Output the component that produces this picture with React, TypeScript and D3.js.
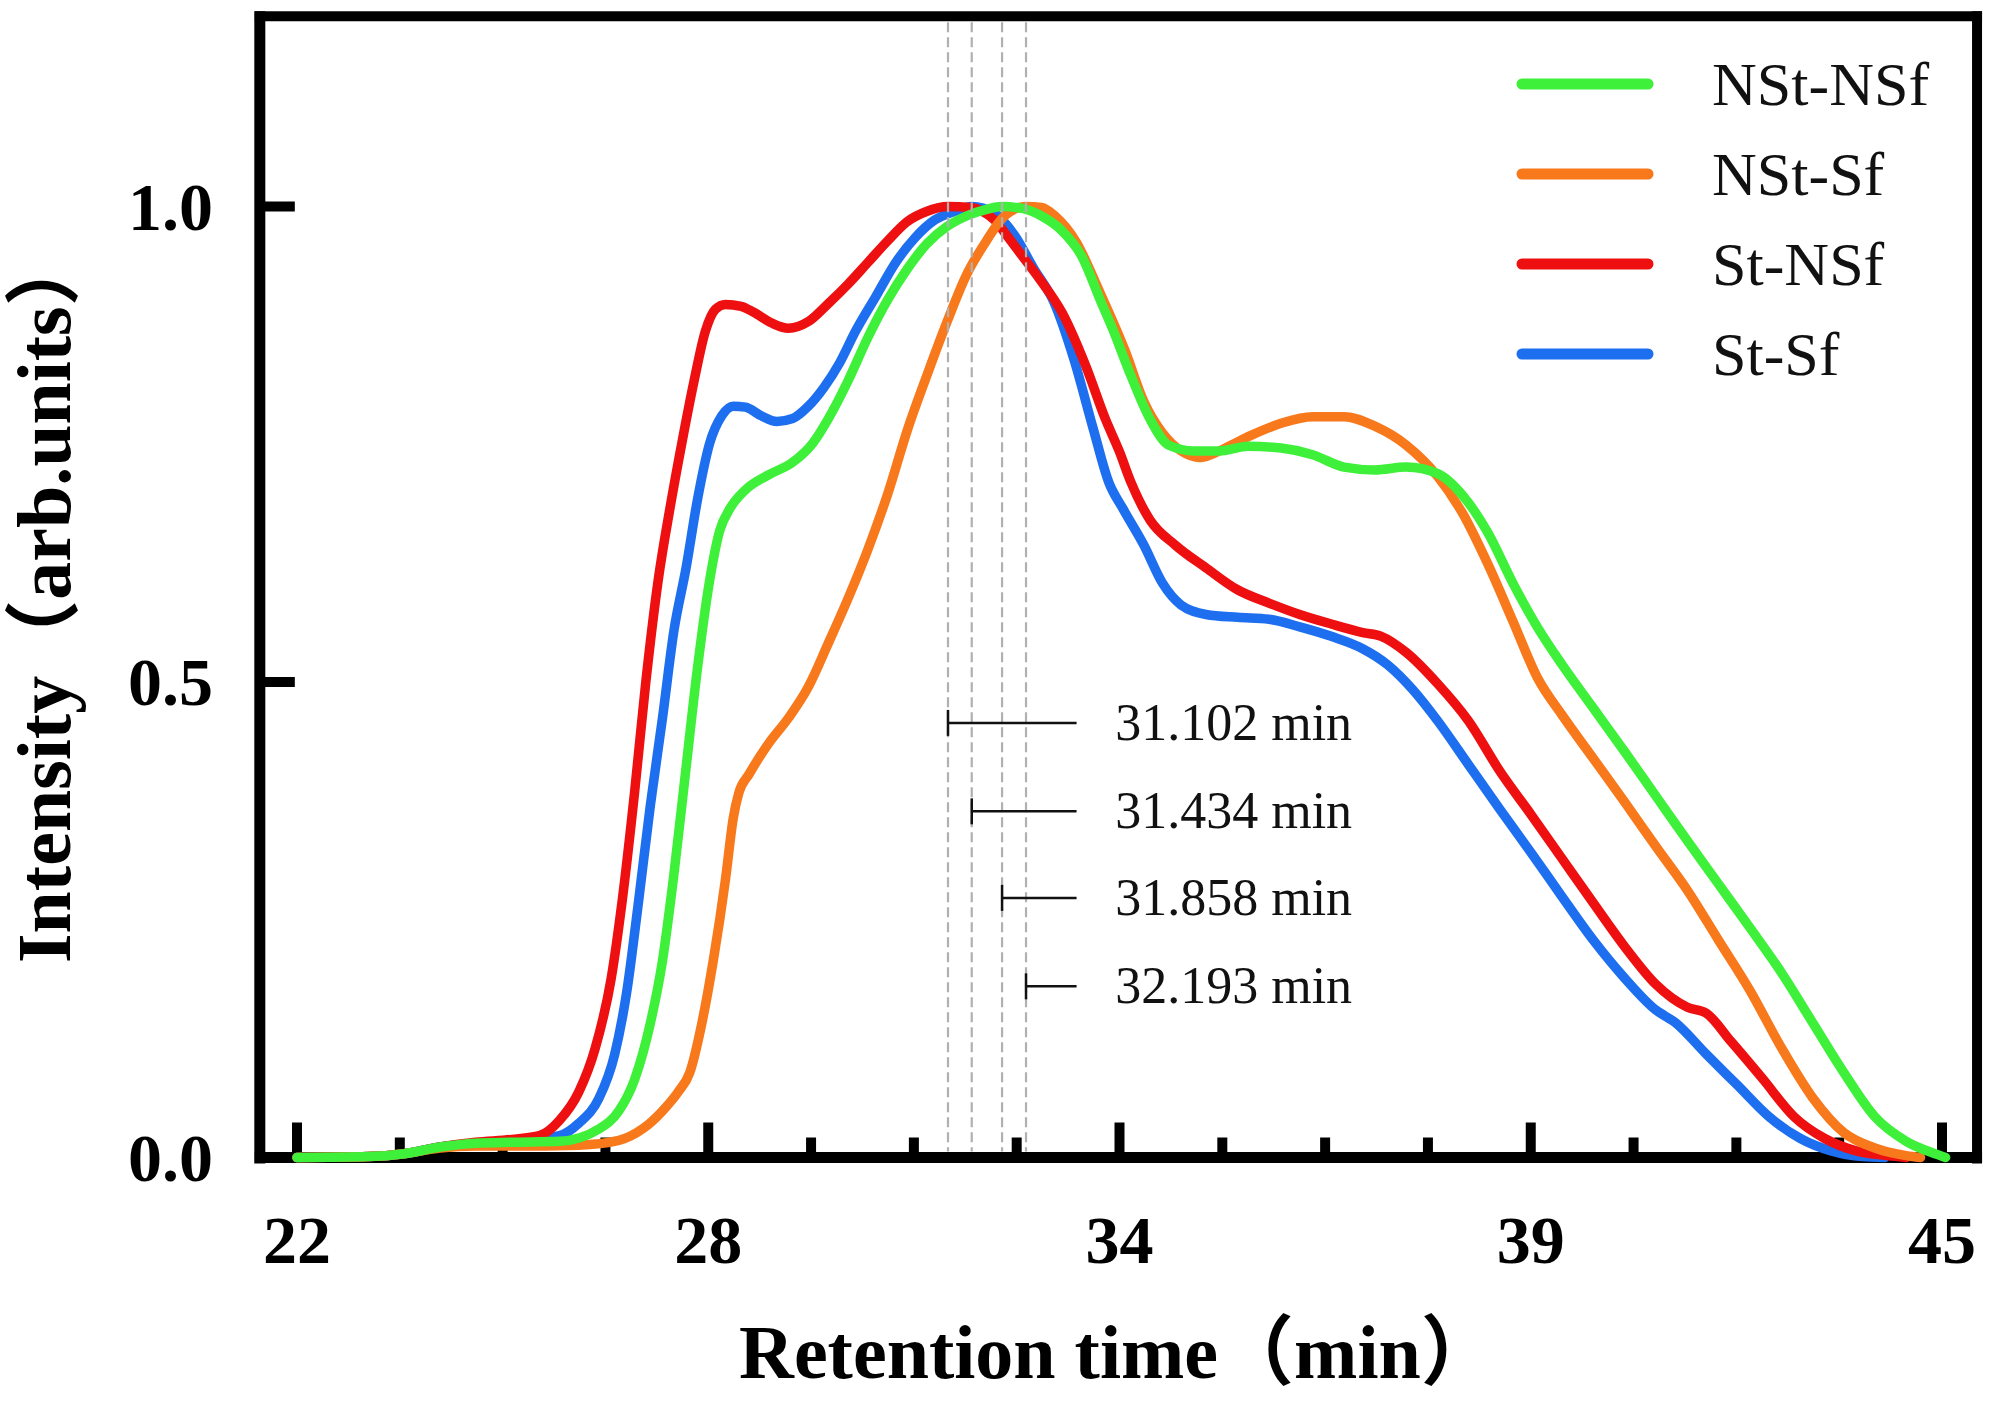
import React, { useEffect } from "react";
import * as d3 from "d3";

const W = 1995;
const H = 1405;

const seriesNames = ["NSt-NSf", "NSt-Sf", "St-NSf", "St-Sf"];
const seriesColors = ["#3ef03a", "#f8781c", "#ee1010", "#1d6ff0"];

// [retention time (min), intensity (arb. units)]
const nstNsf: [number, number][] = [
  [22, 0], [23, 0.001], [23.5, 0.004], [24, 0.011], [24.5, 0.015], [25, 0.016], [25.67, 0.017],
  [26.22, 0.03], [26.5, 0.049], [26.72, 0.082], [26.94, 0.141], [27.11, 0.207], [27.27, 0.298],
  [27.44, 0.41], [27.6, 0.515], [27.77, 0.607], [27.91, 0.659], [28.05, 0.682], [28.27, 0.702],
  [28.6, 0.718], [28.93, 0.731], [29.21, 0.751], [29.43, 0.777], [29.7, 0.816], [29.98, 0.862],
  [30.26, 0.902], [30.53, 0.934], [30.81, 0.961], [31.09, 0.979], [31.36, 0.99], [31.64, 0.997],
  [31.86, 1.0], [32.14, 0.998], [32.41, 0.99], [32.69, 0.975], [32.97, 0.948], [33.24, 0.9],
  [33.4, 0.872], [33.66, 0.822], [33.93, 0.776], [34.19, 0.749], [34.54, 0.743], [34.89, 0.743],
  [35.3, 0.748], [35.76, 0.746], [36.2, 0.739], [36.64, 0.726], [37.07, 0.723], [37.51, 0.726],
  [37.95, 0.719], [38.3, 0.696], [38.65, 0.657], [39.0, 0.604], [39.34, 0.558], [39.69, 0.518],
  [40.13, 0.472], [40.57, 0.426], [41.0, 0.38], [41.44, 0.333], [41.88, 0.287], [42.32, 0.241],
  [42.75, 0.195], [43.19, 0.142], [43.63, 0.089], [44.06, 0.043], [44.5, 0.017], [44.94, 0.003],
  [45.05, 0],
];

const nstSf: [number, number][] = [
  [22, 0], [23, 0.001], [23.5, 0.004], [24, 0.01], [24.5, 0.012], [25, 0.012], [25.94, 0.013],
  [26.5, 0.018], [26.83, 0.03], [27.11, 0.049], [27.33, 0.069], [27.49, 0.089], [27.66, 0.141],
  [27.82, 0.207], [27.99, 0.292], [28.1, 0.357], [28.18, 0.384], [28.32, 0.403], [28.6, 0.436],
  [28.87, 0.462], [29.15, 0.495], [29.43, 0.541], [29.7, 0.587], [29.98, 0.639], [30.26, 0.698],
  [30.53, 0.764], [30.81, 0.823], [31.09, 0.879], [31.36, 0.928], [31.64, 0.964], [31.83, 0.985],
  [32.03, 0.997], [32.19, 1.0], [32.41, 0.999], [32.6, 0.99], [32.9, 0.962], [33.2, 0.914],
  [33.58, 0.848], [33.84, 0.795], [34.1, 0.762], [34.36, 0.743], [34.63, 0.736], [34.98, 0.746],
  [35.33, 0.759], [35.76, 0.772], [36.2, 0.779], [36.64, 0.779], [37.07, 0.769], [37.51, 0.749],
  [37.95, 0.716], [38.3, 0.677], [38.65, 0.624], [39.0, 0.564], [39.34, 0.505], [39.69, 0.465],
  [40.13, 0.419], [40.57, 0.373], [41.0, 0.327], [41.44, 0.281], [41.88, 0.228], [42.32, 0.175],
  [42.75, 0.116], [43.19, 0.063], [43.63, 0.026], [44.06, 0.01], [44.5, 0.002], [44.7, 0],
];

const stNsf: [number, number][] = [
  [22, 0], [23, 0.001], [23.5, 0.004], [24, 0.011], [24.5, 0.016], [25, 0.019], [25.39, 0.023],
  [25.67, 0.039], [25.94, 0.069], [26.17, 0.115], [26.39, 0.187], [26.55, 0.272], [26.72, 0.384],
  [26.88, 0.502], [27.05, 0.607], [27.22, 0.685], [27.38, 0.751], [27.55, 0.816], [27.71, 0.869],
  [27.85, 0.892], [27.99, 0.897], [28.21, 0.895], [28.38, 0.889], [28.65, 0.877], [28.87, 0.872],
  [29.15, 0.879], [29.43, 0.898], [29.7, 0.918], [29.98, 0.941], [30.26, 0.964], [30.53, 0.984],
  [30.81, 0.995], [31.1, 1.0], [31.42, 0.999], [31.58, 0.995], [31.75, 0.986], [31.92, 0.97],
  [32.14, 0.948], [32.38, 0.924], [32.7, 0.888], [33.03, 0.832], [33.3, 0.777], [33.5, 0.742],
  [33.66, 0.71], [33.93, 0.67], [34.28, 0.644], [34.71, 0.62], [35.15, 0.597], [35.59, 0.583],
  [36.02, 0.571], [36.46, 0.561], [36.9, 0.552], [37.16, 0.548], [37.51, 0.531], [37.95, 0.498],
  [38.38, 0.459], [38.82, 0.406], [39.26, 0.36], [39.69, 0.314], [40.13, 0.267], [40.57, 0.221],
  [41.0, 0.182], [41.44, 0.158], [41.7, 0.152], [42.05, 0.122], [42.49, 0.083], [42.93, 0.043],
  [43.36, 0.02], [43.8, 0.007], [44.24, 0.002], [44.5, 0],
];

const stSf: [number, number][] = [
  [22, 0], [23, 0.001], [23.5, 0.004], [24, 0.011], [24.5, 0.015], [25, 0.017], [25.67, 0.023],
  [25.94, 0.036], [26.22, 0.062], [26.44, 0.108], [26.61, 0.174], [26.77, 0.266], [26.94, 0.37],
  [27.11, 0.462], [27.27, 0.554], [27.44, 0.62], [27.6, 0.692], [27.77, 0.751], [27.94, 0.78],
  [28.1, 0.79], [28.27, 0.789], [28.49, 0.78], [28.71, 0.774], [28.93, 0.777], [29.15, 0.79],
  [29.37, 0.81], [29.59, 0.836], [29.81, 0.869], [30.09, 0.905], [30.37, 0.941], [30.64, 0.967],
  [30.92, 0.986], [31.2, 0.995], [31.43, 1.0], [31.75, 0.993], [32.03, 0.97], [32.3, 0.935],
  [32.58, 0.9], [32.86, 0.84], [33.13, 0.767], [33.35, 0.71], [33.55, 0.682], [33.84, 0.644],
  [34.1, 0.604], [34.36, 0.581], [34.71, 0.571], [35.15, 0.568], [35.59, 0.566], [36.02, 0.558],
  [36.46, 0.548], [36.9, 0.535], [37.25, 0.518], [37.6, 0.492], [37.95, 0.459], [38.38, 0.413],
  [38.82, 0.366], [39.26, 0.32], [39.69, 0.274], [40.13, 0.228], [40.57, 0.188], [41.0, 0.155],
  [41.27, 0.142], [41.7, 0.109], [42.14, 0.076], [42.58, 0.043], [43.02, 0.02], [43.45, 0.007],
  [43.89, 0.001], [44.2, 0],
];

const seriesData = [nstNsf, nstSf, stNsf, stSf];
const drawOrder = [3, 2, 1, 0];

const xTickValues = [22, 27.75, 33.5, 39.25, 45];
const xTickLabels = ["22", "28", "34", "39", "45"];
const yTickValues = [0, 0.5, 1.0];
const yTickLabels = ["0.0", "0.5", "1.0"];

const peakTimes = [31.102, 31.434, 31.858, 32.193];
const peakLabels = ["31.102 min", "31.434 min", "31.858 min", "32.193 min"];
const peakLabelLevels = [0.457, 0.364, 0.273, 0.18];
const peakLineEnd = 32.9;
const peakTextStart = 33.44;

const xDomainFrame = [21.48, 45.49];
const yDomainTop = 1.2;

const serif = "'Liberation Serif', 'Times New Roman', 'Noto Sans CJK SC', serif";

export default function App() {
  useEffect(() => {
    document.body.style.margin = "0";
  }, []);

  const x = d3.scaleLinear().domain([22, 45]).range([297, 1942]);
  const y = d3.scaleLinear().domain([0, 1]).range([1157.5, 206.5]);

  const left = x(xDomainFrame[0]);
  const right = x(xDomainFrame[1]);
  const top = y(yDomainTop);
  const bottom = y(0);

  const line = d3
    .line<[number, number]>()
    .x((d) => x(d[0]))
    .y((d) => y(d[1]))
    .curve(d3.curveMonotoneX);

  const minorTicks: number[] = [];
  for (let i = 0; i < xTickValues.length - 1; i++) {
    const a = xTickValues[i];
    const b = xTickValues[i + 1];
    for (let k = 1; k < 4; k++) minorTicks.push(a + ((b - a) * k) / 4);
  }

  const legendY = [84, 174, 264, 354];

  return (
    <svg
      width={W}
      height={H}
      viewBox={`0 0 ${W} ${H}`}
      style={{ position: "absolute", left: 0, top: 0, background: "#fff" }}
    >
      <rect x={0} y={0} width={W} height={H} fill="#fff" />

      {/* frame */}
      <line x1={left} x2={left} y1={top - 5} y2={bottom + 6} stroke="#000" strokeWidth={11} />
      <line x1={left - 5} x2={right + 5} y1={bottom} y2={bottom} stroke="#000" strokeWidth={11} />
      <line x1={left - 5} x2={right + 5} y1={top} y2={top} stroke="#000" strokeWidth={10} />
      <line x1={right} x2={right} y1={top - 5} y2={bottom + 6} stroke="#000" strokeWidth={10} />

      {/* x ticks */}
      {xTickValues.map((v, i) => (
        <line key={"xt" + i} x1={x(v)} x2={x(v)} y1={bottom} y2={bottom - 35} stroke="#000" strokeWidth={10} />
      ))}
      {minorTicks.map((v, i) => (
        <line key={"xm" + i} x1={x(v)} x2={x(v)} y1={bottom} y2={bottom - 20} stroke="#000" strokeWidth={10} />
      ))}
      {/* y ticks */}
      {yTickValues.map((v, i) => (
        <line key={"yt" + i} x1={left} x2={left + 35} y1={y(v)} y2={y(v)} stroke="#000" strokeWidth={10} />
      ))}

      {/* tick labels */}
      {xTickValues.map((v, i) => (
        <text key={"xl" + i} x={x(v)} y={1263} textAnchor="middle" fontFamily={serif} fontWeight="bold" fontSize={68} fill="#000">
          {xTickLabels[i]}
        </text>
      ))}
      {yTickValues.map((v, i) => (
        <text key={"yl" + i} x={213} y={y(v) + 23} textAnchor="end" fontFamily={serif} fontWeight="bold" fontSize={68} fill="#000">
          {yTickLabels[i]}
        </text>
      ))}

      {/* axis titles */}
      <text x={739} y={1378} fontFamily={serif} fontWeight="bold" fontSize={76} fill="#000">
        Retention time（min）
      </text>
      <text transform="translate(70,963) rotate(-90)" fontFamily={serif} fontWeight="bold" fontSize={76} fill="#000">
        Intensity（arb.units）
      </text>

      {/* curves */}
      {drawOrder.map((si) => (
        <path
          key={"s" + si}
          d={line(seriesData[si]) || ""}
          fill="none"
          stroke={seriesColors[si]}
          strokeWidth={9.5}
          strokeLinejoin="round"
          strokeLinecap="round"
        />
      ))}

      {/* peak dashed lines */}
      {peakTimes.map((t, i) => (
        <line
          key={"pd" + i}
          x1={x(t)}
          x2={x(t)}
          y1={top + 6}
          y2={bottom - 6}
          stroke="#b0b0b0"
          strokeWidth={2.2}
          strokeDasharray="10,5"
        />
      ))}

      {/* peak annotations */}
      {peakTimes.map((t, i) => (
        <g key={"pa" + i}>
          <line x1={x(t)} x2={x(peakLineEnd)} y1={y(peakLabelLevels[i])} y2={y(peakLabelLevels[i])} stroke="#111" strokeWidth={2.5} />
          <line x1={x(t)} x2={x(t)} y1={y(peakLabelLevels[i]) - 13} y2={y(peakLabelLevels[i]) + 13} stroke="#111" strokeWidth={2.5} />
          <text x={x(peakTextStart)} y={y(peakLabelLevels[i]) + 17} fontFamily={serif} fontSize={52} fill="#111">
            {peakLabels[i]}
          </text>
        </g>
      ))}

      {/* legend */}
      {seriesNames.map((n, i) => (
        <g key={"lg" + i}>
          <line x1={1522} x2={1648} y1={legendY[i]} y2={legendY[i]} stroke={seriesColors[i]} strokeWidth={11} strokeLinecap="round" />
          <text x={1712} y={legendY[i] + 21} fontFamily={serif} fontSize={62} fill="#111">
            {n}
          </text>
        </g>
      ))}
    </svg>
  );
}
